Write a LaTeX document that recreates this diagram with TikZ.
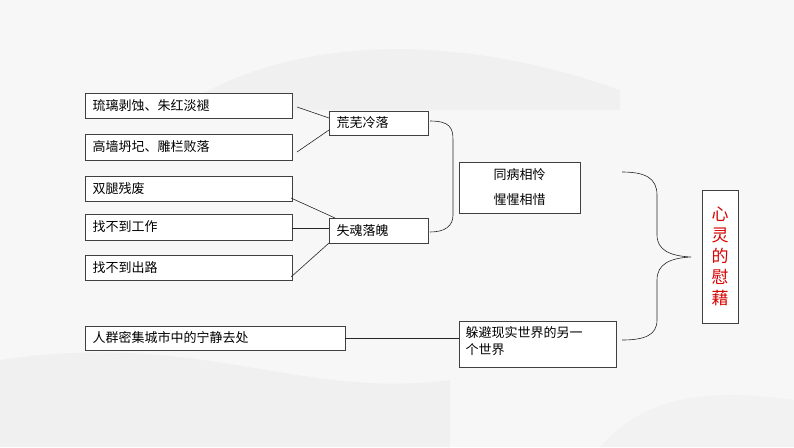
\documentclass[tikz,border=0pt]{standalone}
\usepackage{fontspec}
\setmainfont{Noto Sans CJK SC}
\begin{document}
\begin{tikzpicture}[x=1pt,y=-1pt,
 bx/.style={draw=black!75,line width=0.7pt,fill=white,inner sep=0pt},
 tx/.style={font=\fontsize{13}{15}\selectfont,anchor=west},
 ln/.style={draw=black!85,line width=0.6pt}]
\fill[gray!6] (0,0) rectangle (794,447);
\useasboundingbox (0,0) rectangle (794,447);
\fill[gray!12] (200,95) .. controls (300,40) and (450,30) .. (620,90) -- (620,110) -- (200,110) -- cycle;
\fill[gray!12] (0,360) .. controls (200,330) and (300,400) .. (450,380) -- (450,447) -- (0,447) -- cycle;
\fill[gray!10] (600,447) .. controls (650,390) and (720,390) .. (794,400) -- (794,447) -- cycle;
% left boxes
\draw[bx] (85,93) rectangle (292,118); \node[tx] (l1) at (89,105.5) {琉璃剥蚀、朱红淡褪};
\draw[bx] (85,134) rectangle (292,160); \node[tx] (l2) at (89,147) {高墙坍圮、雕栏败落};
\draw[bx] (85,176) rectangle (292,201); \node[tx] (l3) at (89,188.5) {双腿残废};
\draw[bx] (85,214) rectangle (292,240); \node[tx] (l4) at (89,227) {找不到工作};
\draw[bx] (85,255) rectangle (292,280); \node[tx] (l5) at (89,267.5) {找不到出路};
\draw[bx] (85,326) rectangle (345,350); \node[tx] (l6) at (89,338) {人群密集城市中的宁静去处};
\draw[bx] (329,111) rectangle (428,135); \node[tx] (m1) at (333,123) {荒芜冷落};
\draw[bx] (329,218) rectangle (428,243); \node[tx] (m2) at (333,230.5) {失魂落魄};
\draw[bx] (459,162) rectangle (580,213);
\node[font=\fontsize{13}{15}\selectfont] (t1) at (519.5,175) {同病相怜};
\node[font=\fontsize{13}{15}\selectfont] (t2) at (519.5,200) {惺惺相惜};
\draw[bx] (459,321) rectangle (616,367);
\node[font=\fontsize{13}{17}\selectfont,align=left,anchor=north west] (b) at (462,323) {躲避现实世界的另一\\个世界};
\draw[bx] (702,190) rectangle (738,323);
\node[text=red!85!black,font=\fontsize{17}{21}\selectfont,align=center] (r) at (720,256.5) {心\\灵\\的\\慰\\藉};
\coordinate (a1) at (297,107); \coordinate (a2) at (297,152);
\coordinate (a3) at (291,198); \coordinate (a4) at (292,228); \coordinate (a5) at (291,277);
\draw[ln] (a1) -- (329,118);
\draw[ln] (a2) -- (329,130);
\draw[ln] (a3) -- (335,218);
\draw[ln] (a4) -- (329,228);
\draw[ln] (a5) -- (329,243);
\draw[ln] (345,338) -- (459,338);
\draw[ln] (430,121) .. controls (450,121) and (453,128) .. (453,140) -- (453,215) .. controls (453,226) and (445,232) .. (430,232);
\draw[ln] (622,172) .. controls (645,172) and (657,178) .. (657,195) -- (657,235) .. controls (657,250) and (670,256) .. (691,257)
 .. controls (670,258) and (657,264) .. (657,280) -- (657,320) .. controls (657,335) and (645,340) .. (622,340);
\end{tikzpicture}
\end{document}
